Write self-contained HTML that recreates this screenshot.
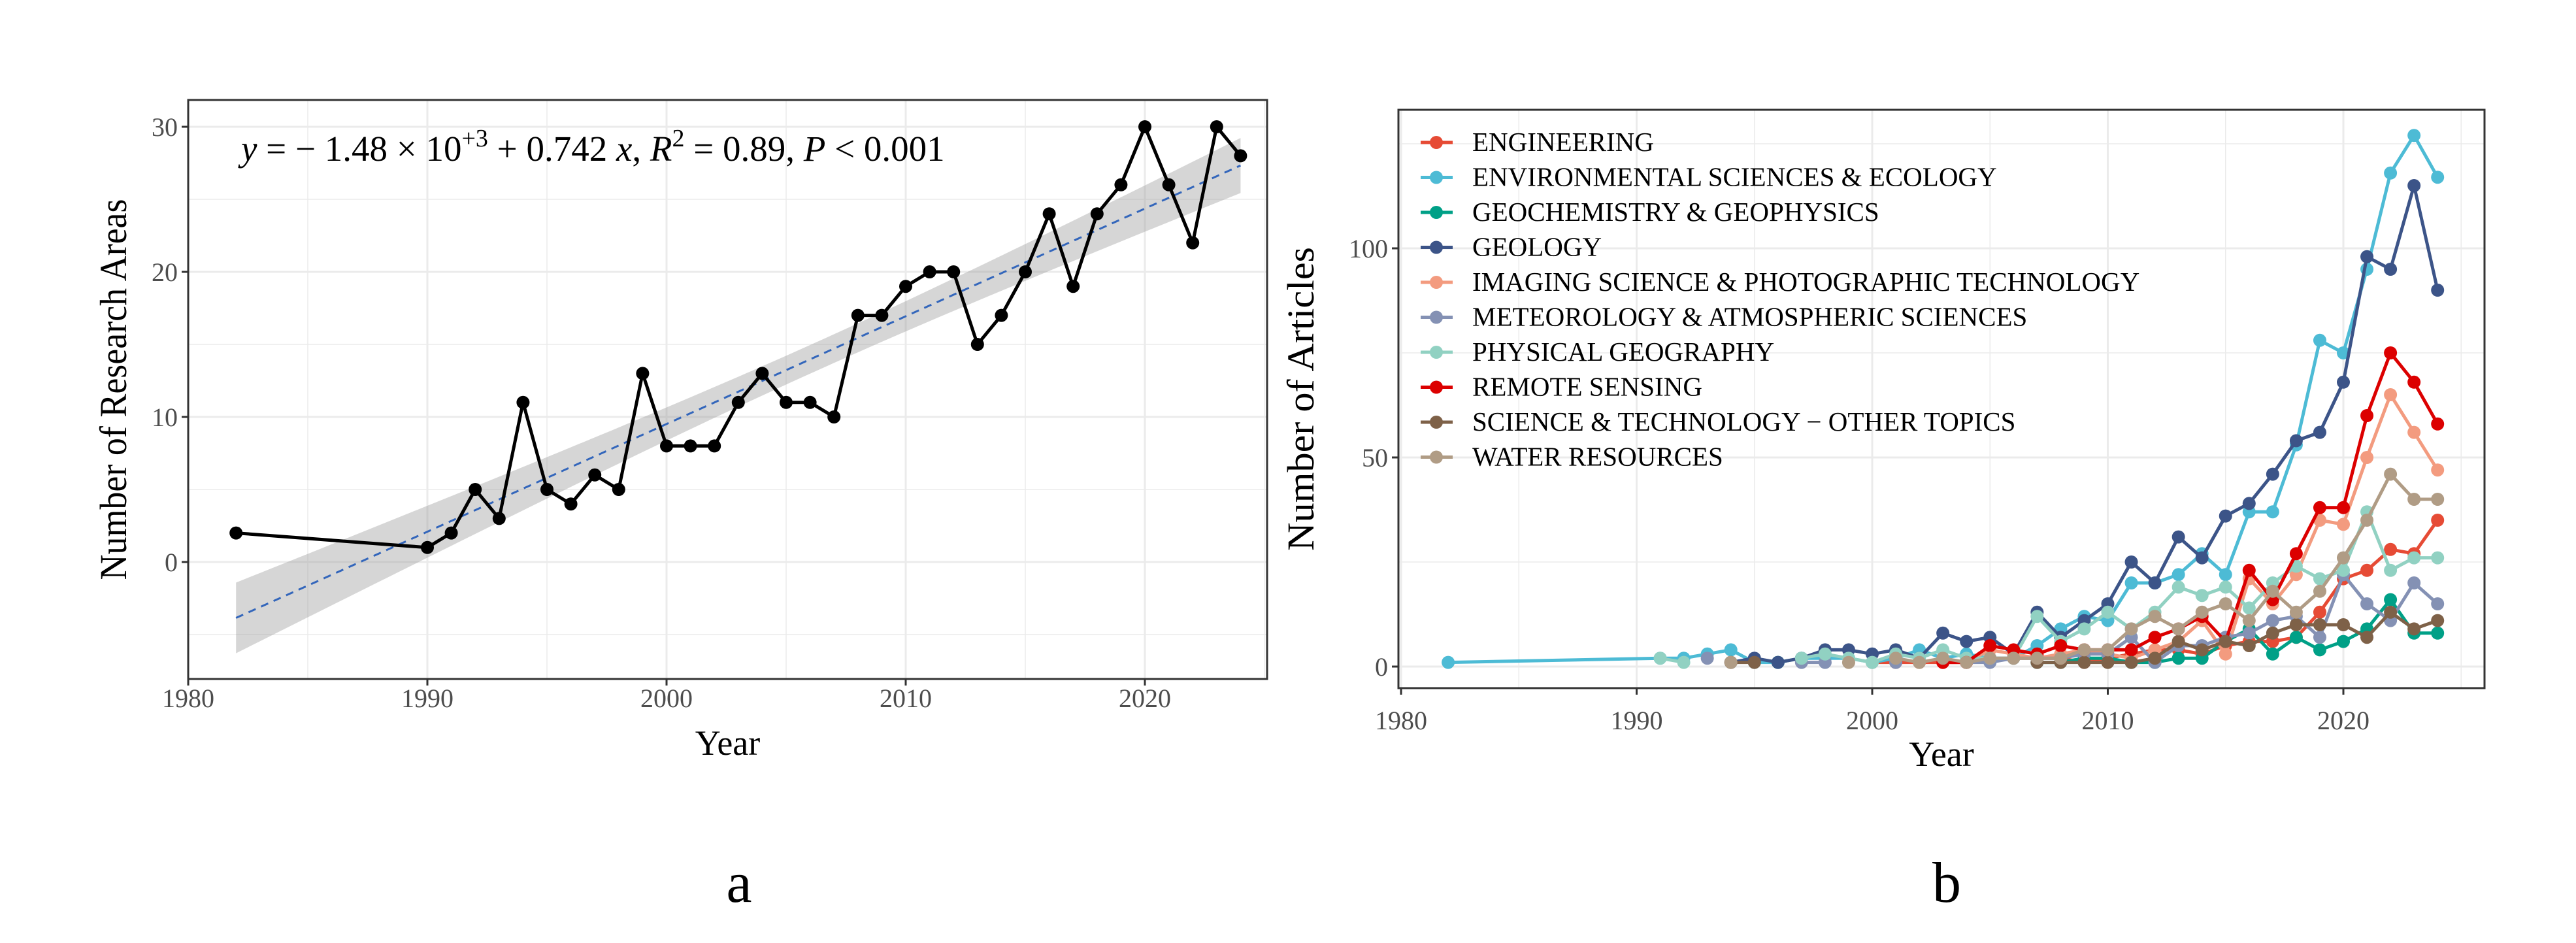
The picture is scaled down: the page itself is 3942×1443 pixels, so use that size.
<!DOCTYPE html>
<html><head><meta charset="utf-8"><style>
html,body{margin:0;padding:0;background:#fff;}
svg{display:block;font-family:"Liberation Serif",serif;}
</style></head><body>
<svg id="chart" width="3942" height="1443" viewBox="0 0 3942 1443" xmlns="http://www.w3.org/2000/svg">
<rect width="3942" height="1443" fill="#fff"/>
<g id="pa"></g>
<g id="pb"></g>
<text x="1131" y="1380" font-size="88" text-anchor="middle">a</text>
<text x="2979" y="1380" font-size="88" text-anchor="middle">b</text>
</svg>
<script>
// ---------- Panel a data ----------
const yearsA = [1982,1990,1991,1992,1993,1994,1995,1996,1997,1998,1999,2000,2001,2002,2003,2004,2005,2006,2007,2008,2009,2010,2011,2012,2013,2014,2015,2016,2017,2018,2019,2020,2021,2022,2023,2024];
const areasA = [2,1,2,5,3,11,5,4,6,5,13,8,8,8,11,13,11,11,10,17,17,19,20,20,15,17,20,24,19,24,26,30,26,22,30,28];
const xTicksA = [1980,1990,2000,2010,2020];
const yTicksA = [0,10,20,30];

// ---------- Panel b data ----------
// index 0 = 1982, then 1991..2024
const yearsB = [1982,1991,1992,1993,1994,1995,1996,1997,1998,1999,2000,2001,2002,2003,2004,2005,2006,2007,2008,2009,2010,2011,2012,2013,2014,2015,2016,2017,2018,2019,2020,2021,2022,2023,2024];
const seriesNames = ["ENGINEERING","ENVIRONMENTAL SCIENCES & ECOLOGY","GEOCHEMISTRY & GEOPHYSICS","GEOLOGY","IMAGING SCIENCE & PHOTOGRAPHIC TECHNOLOGY","METEOROLOGY & ATMOSPHERIC SCIENCES","PHYSICAL GEOGRAPHY","REMOTE SENSING","SCIENCE & TECHNOLOGY \u2212 OTHER TOPICS","WATER RESOURCES"];
const seriesColors = ["#E64B35","#4DBBD5","#00A087","#3C5488","#F39B7F","#8491B4","#91D1C2","#DC0000","#7E6148","#B09C85"];
const engineering = [null, null,null,null,null,null,null,null,null,null,1, 1,1,1,1,2,2,2,2,1,2, 3,4,4,3,5,6,6,7,13,21, 23,28,27,35];
const envSci = [1, 2,2,3,4,1,1,2,2,2,1, 2,4,2,3,2,2,5,9,12,11, 20,20,22,27,22,37,37,53,78,75, 95,118,127,117];
const geochem = [null, null,null,null,null,null,1,null,null,null,null, null,null,null,null,null,null,1,1,2,2, 1,1,2,2,6,9,3,7,4,6, 9,16,8,8];
const geology = [null, null,null,null,1,2,1,2,4,4,3, 4,2,8,6,7,3,13,7,11,15, 25,20,31,26,36,39,46,54,56,68, 98,95,115,90];
const imaging = [null, null,null,null,null,null,null,null,null,null,null, null,null,1,1,4,3,2,3,4,3, 2,4,6,11,3,21,15,22,35,34, 50,65,56,47];
const meteo = [null, null,null,2,null,null,null,1,1,null,null, 1,null,null,1,1,2,2,2,3,3, 7,1,5,5,7,8,11,12,7,22, 15,11,20,15];
const physGeo = [null, 2,1,null,null,null,null,2,3,2,1, 3,2,4,2,2,2,12,6,9,13, 9,13,19,17,19,14,20,24,21,23, 37,23,26,26];
const remote = [null, null,null,null,null,null,null,null,null,null,null, null,null,1,1,5,4,3,5,4,4, 4,7,9,12,6,23,16,27,38,38, 60,75,68,58];
const sciTech = [null, null,null,null,1,1,null,null,null,null,null, null,null,null,null,null,null,1,1,1,1, 1,2,6,4,6,5,8,10,10,10, 7,13,9,11];
const water = [null, null,null,null,1,null,null,null,null,1,null, 2,1,2,1,2,2,2,2,4,4, 9,12,9,13,15,11,18,13,18,26, 35,46,40,40];
const seriesValues = [engineering,envSci,geochem,geology,imaging,meteo,physGeo,remote,sciTech,water];
const xTicksB = [1980,1990,2000,2010,2020];
const yTicksB = [0,50,100];

const NS = "http://www.w3.org/2000/svg";
function mk(parent, tag, attrs){const e=document.createElementNS(NS,tag);for(const k in attrs)e.setAttribute(k,attrs[k]);parent.appendChild(e);return e;}

// ---------- Panel a ----------
(function(){
const g = document.getElementById('pa');
const L=288,R=1939,T=153,B=1039;
const xA = y => L + (y-1980)*36.6;
const yA = v => 860 - v*22.2;
for(let yr=1985; yr<2030; yr+=10){ if(xA(yr)<R){const l=mk(g,'line',{x1:xA(yr),x2:xA(yr),y1:T,y2:B,stroke:'#ebebeb','stroke-width':1.5});}}
for(let v=-5; v<=35; v+=10){ if(yA(v)>T&&yA(v)<B){const l=mk(g,'line',{x1:L,x2:R,y1:yA(v),y2:yA(v),stroke:'#ebebeb','stroke-width':1.5});}}
xTicksA.forEach(t=>{const l=mk(g,'line',{x1:xA(t),x2:xA(t),y1:T,y2:B,stroke:'#ebebeb','stroke-width':3});});
yTicksA.forEach(t=>{const l=mk(g,'line',{x1:L,x2:R,y1:yA(t),y2:yA(t),stroke:'#ebebeb','stroke-width':3});});
const n=yearsA.length; const xm=yearsA.reduce((a,b)=>a+b)/n; const ym=areasA.reduce((a,b)=>a+b)/n;
let sxx=0,sxy=0; for(let i=0;i<n;i++){sxx+=(yearsA[i]-xm)**2;sxy+=(yearsA[i]-xm)*(areasA[i]-ym);}
const b1=sxy/sxx, b0=ym-b1*xm; let sse=0; for(let i=0;i<n;i++){sse+=(areasA[i]-b0-b1*yearsA[i])**2;}
const s=Math.sqrt(sse/(n-2)), tq=2.032;
const x0=Math.min(...yearsA), x1=Math.max(...yearsA);
let up=[],lo=[];
for(let k=0;k<=80;k++){const xx=x0+(x1-x0)*k/80;const f=b0+b1*xx;const se=s*Math.sqrt(1/n+(xx-xm)**2/sxx);up.push(xA(xx)+','+yA(f+tq*se));lo.unshift(xA(xx)+','+yA(f-tq*se));}
const band=mk(g,'polygon',{points:up.concat(lo).join(' '),fill:'#999',opacity:0.4});

const fl=mk(g,'line',{x1:xA(x0),y1:yA(b0+b1*x0),x2:xA(x1),y2:yA(b0+b1*x1),stroke:'#3366bb','stroke-width':3,'stroke-dasharray':'12,9'});

const pl=mk(g,'polyline',{points:yearsA.map((y,i)=>xA(y)+','+yA(areasA[i])).join(' '),fill:'none',stroke:'#000','stroke-width':5,'stroke-linejoin':'round'});

yearsA.forEach((y,i)=>{const c=mk(g,'circle',{cx:xA(y),cy:yA(areasA[i]),r:10,fill:'#000'});});
const fr=mk(g,'rect',{x:L,y:T,width:R-L,height:B-T,fill:'none',stroke:'#333','stroke-width':3});

xTicksA.forEach(t=>{mk(g,'line',{x1:xA(t),x2:xA(t),y1:B,y2:B+10,stroke:'#333','stroke-width':3});
 const tx=mk(g,'text',{x:xA(t),y:1082,'font-size':40,'text-anchor':'middle',fill:'#4d4d4d'});tx.textContent=t;});
yTicksA.forEach(t=>{mk(g,'line',{x1:L-10,x2:L,y1:yA(t),y2:yA(t),stroke:'#333','stroke-width':3});
 const tx=mk(g,'text',{x:L-16,y:yA(t)+14,'font-size':40,'text-anchor':'end',fill:'#4d4d4d'});tx.textContent=t;});
const xt=mk(g,'text',{x:(L+R)/2,y:1155,'font-size':54,'text-anchor':'middle'});xt.textContent='Year';
const yt=mk(g,'text',{x:0,y:0,'font-size':58,'text-anchor':'middle',textLength:583,lengthAdjust:'spacingAndGlyphs',transform:'translate(193,'+((T+B)/2)+') rotate(-90)'});yt.textContent='Number of Research Areas';
const eq=mk(g,'text',{x:369,y:246,'font-size':55});
eq.innerHTML='<tspan font-style="italic">y</tspan> = \u2212 1.48 \u00d7 10<tspan dy="-22" font-size="38">+3</tspan><tspan dy="22"> + 0.742 </tspan><tspan font-style="italic">x</tspan>, <tspan font-style="italic">R</tspan><tspan dy="-22" font-size="38">2</tspan><tspan dy="22"> = 0.89, </tspan><tspan font-style="italic">P</tspan> &lt; 0.001';

})();

// ---------- Panel b ----------
(function(){
const g=document.getElementById('pb');
const L=2140,R=3802,T=168,B=1053;
const xB=y=>2144+(y-1980)*36.05;
const yB=v=>1020-v*6.4;
for(let yr=1985;yr<2030;yr+=10){const l=mk(g,'line',{x1:xB(yr),x2:xB(yr),y1:T,y2:B,stroke:'#ebebeb','stroke-width':1.5});}
[25,75,125].forEach(v=>{const l=mk(g,'line',{x1:L,x2:R,y1:yB(v),y2:yB(v),stroke:'#ebebeb','stroke-width':1.5});});
xTicksB.forEach(t=>{const l=mk(g,'line',{x1:xB(t),x2:xB(t),y1:T,y2:B,stroke:'#ebebeb','stroke-width':3});});
yTicksB.forEach(t=>{const l=mk(g,'line',{x1:L,x2:R,y1:yB(t),y2:yB(t),stroke:'#ebebeb','stroke-width':3});});
seriesValues.forEach((vals,si)=>{
 const col=seriesColors[si];
 let seg=[];
 const flush=()=>{if(seg.length>1){const p=mk(g,'polyline',{points:seg.join(' '),fill:'none',stroke:col,'stroke-width':5,'stroke-linejoin':'round'});}seg=[];};
 vals.forEach((v,i)=>{ if(v===null){flush();} else seg.push(xB(yearsB[i])+','+yB(v)); });
 flush();
 vals.forEach((v,i)=>{ if(v!==null){const c=mk(g,'circle',{cx:xB(yearsB[i]),cy:yB(v),r:10,fill:col});}});
});
const fr=mk(g,'rect',{x:L,y:T,width:R-L,height:B-T,fill:'none',stroke:'#333','stroke-width':3});

xTicksB.forEach(t=>{mk(g,'line',{x1:xB(t),x2:xB(t),y1:B,y2:B+10,stroke:'#333','stroke-width':3});
 const tx=mk(g,'text',{x:xB(t),y:1116,'font-size':40,'text-anchor':'middle',fill:'#4d4d4d'});tx.textContent=t;});
yTicksB.forEach(t=>{mk(g,'line',{x1:L-10,x2:L,y1:yB(t),y2:yB(t),stroke:'#333','stroke-width':3});
 const tx=mk(g,'text',{x:L-16,y:yB(t)+14,'font-size':40,'text-anchor':'end',fill:'#4d4d4d'});tx.textContent=t;});
const xt=mk(g,'text',{x:(L+R)/2,y:1172,'font-size':54,'text-anchor':'middle'});xt.textContent='Year';
const yt=mk(g,'text',{x:0,y:0,'font-size':58,'text-anchor':'middle',textLength:465,lengthAdjust:'spacingAndGlyphs',transform:'translate(2010,'+((T+B)/2)+') rotate(-90)'});yt.textContent='Number of Articles';
seriesNames.forEach((nm,i)=>{
 const y=218+i*53.5;
 const lg=mk(g,'g',{});
 
 
 mk(lg,'line',{x1:2174,x2:2223,y1:y,y2:y,stroke:seriesColors[i],'stroke-width':5});
 mk(lg,'circle',{cx:2198,cy:y,r:10,fill:seriesColors[i]});
 const tx=mk(lg,'text',{x:2253,y:y+13,'font-size':41});tx.textContent=nm;
});
})();
</script>
</body></html>
